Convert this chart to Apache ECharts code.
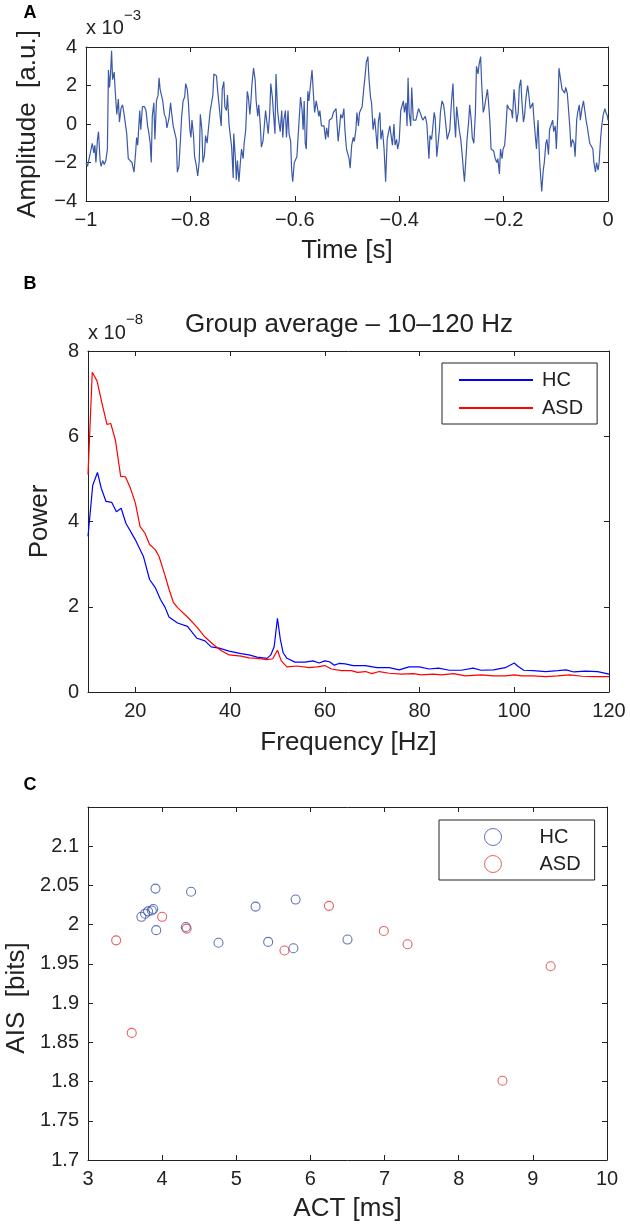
<!DOCTYPE html>
<html>
<head>
<meta charset="utf-8">
<script src="https://cdn.jsdelivr.net/npm/echarts@6.0.0/dist/echarts.min.js"></script>
<style>
  html, body { margin: 0; padding: 0; background: #fff; }
  #chart { width: 630px; height: 1225px; }
</style>
</head>
<body>
<div id="chart"></div>
<script>
// A: sample signal, time in ms, amplitude in units of 1e-3
const timeMs = [
  -1000, -997, -994, -991, -988, -985, -983, -981, -978, -976, -973, -971, -968, -965, -962, -959,
  -957, -955, -953, -951, -949, -946, -944, -941, -938, -936, -933, -930, -927, -924, -922, -919,
  -916, -912, -908, -905, -903, -901, -897, -895, -892, -888, -885, -882, -880, -877, -875, -873,
  -870, -868, -865, -862, -860, -858, -855, -853, -850, -847, -845, -843, -841, -838, -836, -833,
  -830, -827, -825, -822, -819, -817, -814, -811, -809, -806, -804, -801, -799, -797, -794, -792,
  -789, -786, -783, -781, -778, -776, -773, -771, -768, -766, -762, -760, -757, -755, -753, -750,
  -748, -745, -743, -741, -739, -736, -734, -731, -729, -726, -724, -721, -718, -717, -714, -712,
  -710, -707, -704, -702, -699, -697, -694, -691, -689, -686, -684, -682, -679, -676, -674, -671,
  -669, -666, -664, -661, -659, -656, -654, -651, -648, -646, -643, -641, -638, -636, -633, -631,
  -628, -625, -623, -621, -618, -616, -613, -611, -608, -606, -604, -601, -599, -596, -594, -591,
  -589, -586, -584, -582, -580, -578, -575, -573, -570, -567, -564, -562, -559, -557, -554, -552,
  -549, -546, -544, -541, -539, -536, -534, -531, -529, -526, -524, -521,
  -517, -514, -512, -509, -506, -504, -501, -499, -496, -494, -491, -488, -486, -483, -481, -478,
  -476, -473, -471, -468, -465, -463, -460, -458, -455, -453, -450, -447, -445, -442, -440, -437,
  -435, -432, -429, -427, -426, -423, -421, -418, -415, -413, -410, -408, -405, -403, -400, -397,
  -395, -392, -390, -387, -385, -383, -381, -378, -376, -373, -371, -368, -365, -363, -360, -358,
  -355, -353, -350, -347, -345, -343, -341, -338, -336, -333, -331, -328, -326, -323, -321, -318,
  -315, -313, -310, -308, -305, -303, -300, -297, -295, -292, -290, -287, -285, -282, -279, -277,
  -275, -272, -270, -267, -265, -262, -260, -257, -254, -252, -249, -247, -244, -242, -239, -237,
  -234, -231, -229, -226, -224, -221, -219, -216, -213, -211, -208, -206, -203, -201, -198, -196,
  -193, -190, -188, -185, -183, -180, -178, -175, -172, -170, -167, -165, -162, -160, -157, -154,
  -152, -149, -147, -144, -142, -139, -137, -134, -131, -129, -127, -124, -122, -119, -117, -114,
  -112, -109, -106, -104, -101, -99, -96, -94, -91, -88, -86, -83, -81, -78, -76, -73,
  -71, -68, -65, -63, -60, -58, -55, -53, -50, -47, -45, -42, -40, -37, -35, -32,
  -29, -27, -24, -22, -19, -17, -14, -12, -9, -6, -4, -1, 0
];
const amplitude = [
  -2.0, -2.2, -1.8, -1.9, -1.0, -1.5, -1.1, -2.0, -0.8, -0.4, -1.9, -2.2, -1.9, -2.1, -1.9, -1.3,
  2.8, 1.9, 2.6, 3.8, 2.3, 2.7, 1.7, 0.5, 1.3, 0.1, 0.8, 1.0, 0.5, -0.1, -0.5, -1.8,
  -1.9, -2.0, -2.5, -1.5, -0.7, -1.1, 0.7, -0.3, 0.9, 0.9, 0.7, -0.1, -0.4, -1.0, -2.0, 0.4,
  1.1, -0.8, 1.2, 1.5, 2.4, 1.8, 1.8, 1.2, 0.5, 0.3, -0.2, -0.3, 0.3, 1.1, 0.6, -0.1,
  0.0, -0.8, -2.5, -2.2, -0.8, 0.3, 1.2, 1.4, 2.1, 1.8, 1.2, -0.3, -0.7, 0.2, -0.6, -1.7,
  -2.1, -2.7, -1.9, 0.5, -0.3, -2.0, -1.6, -0.6, -1.0, -0.4, 0.7, 1.0, 1.5, 2.6, 2.7, 2.5,
  1.8, 1.8, 0.4, -0.1, 1.8, 2.2, 0.9, 0.7, 1.5, 0.0, -0.5, -1.2, -2.8, -0.5, -1.7, -2.9,
  -1.9, -3.0, -1.9, -1.3, -1.8, -1.0, -0.3, 1.7, 1.4, 0.5, 1.2, 2.1, 2.9, 2.3, 1.2, 0.4,
  1.0, -0.1, -1.2, -0.9, -0.3, 0.7, 0.6, -0.5, 0.6, 2.1, 1.4, 0.6, -0.5, 2.6, 0.7, 0.2,
  -0.4, 0.7, -0.7, 0.2, 0.7, -0.7, 0.7, -0.5, -0.9, -2.4, -3.0, -2.0, -2.0, -1.7, -0.8, -0.7,
  1.4, 0.7, -0.3, 1.2, -1.0, -1.3, 1.7, 1.2, 2.0, 2.8, 1.4, 0.6, 1.2, 0.9, 0.4, 0.7,
  -0.1, 0.0, -0.1, -0.8, -0.2, -0.7, 0.2, 0.3, 0.3, 0.6, 0.7, 0.8,
  -0.9, -0.1, 0.5, 0.3, 0.8, -0.3, -1.3, -1.5, -1.8, -2.3, -1.1, -0.7, -0.9, -0.3, 0.6, -0.1,
  0.6, 0.6, 0.9, 1.8, 2.6, 3.2, 3.5, 2.4, 1.4, 1.1, -0.3, 0.3, -0.3, -1.3, 0.1, 0.6,
  -0.8, -0.3, -1.3, -2.4, -3.0, -0.8, -0.7, -0.1, 0.0, -1.1, 0.0, -1.1, -0.8, -1.3, -0.9, 0.7,
  0.6, 1.2, 0.6, 1.1, -0.1, 2.4, 0.6, -0.1, 1.9, 0.2, 0.3, 0.2, 0.3, 0.8, 0.6, 0.6,
  0.2, 0.3, 0.4, 0.0, -0.9, -1.8, -0.6, -0.8, -0.3, 0.6, 0.3, -1.7, -1.6, -0.3, 0.6, 1.2,
  1.0, 0.6, 0.5, -0.8, -0.5, -0.3, 1.1, 2.1, 0.6, -0.7, 0.9, 0.2, -0.3, -0.8, -1.7, -2.4,
  -3.0, -1.7, -0.8, 0.1, 1.0, 0.2, -0.7, -1.0, 0.6, 3.0, 2.6, 3.1, 3.5, 2.1, 0.6, 0.8,
  0.7, 1.8, 1.2, 0.0, -1.3, -1.3, -1.4, -1.8, -2.0, -1.8, -2.6, -1.3, -1.8, -1.3, -1.1, -0.4,
  1.0, 0.8, 0.9, 0.7, 0.3, 1.8, 1.8, 0.1, 0.6, 1.9, 2.3, 1.2, 0.1, 0.4, 1.4, 2.0,
  1.6, 0.8, 0.7, 1.1, 0.3, -0.7, -1.3, 0.2, -1.9, -2.7, -3.5, -2.4, -2.0, -1.0, -0.8, -1.6,
  -0.3, -0.2, 0.2, -0.4, -0.1, -1.3, 0.6, 2.9, 2.8, 1.8, 1.7, 1.6, 1.9, 1.6, 0.9, -0.2,
  -1.2, -0.8, -1.0, -1.7, 0.2, 0.6, 1.0, 0.2, 0.8, 1.2, 1.2, 0.2, -0.1, -0.1, -1.0, -1.1,
  -1.3, -2.0, -2.5, -2.0, -2.4, -2.0, -0.7, -0.1, 0.5, 0.8, 0.6, 0.4, 0.2
];

// B: group average power spectra, power in units of 1e-8
const hcFreq = [
  10, 11, 12, 12.8, 13.8, 15, 16, 17, 18, 20, 21.7, 23, 24.2, 25.3, 26.3, 27.1, 28.9, 31, 33, 34.7,
  36, 37.7, 39.8, 42.3, 44, 45.7, 47.8, 48.6, 49.3, 50, 50.6, 51.2, 52, 53.7, 55.8, 57.5, 58.8, 60, 61, 62,
  63, 64.3, 66, 68.6, 71, 73.6, 75.7, 77.8, 80, 82, 84, 86.3, 88.8, 91.3, 93, 95.6, 98.1, 100, 100.7, 102,
  104, 106.6, 109.2, 110.9, 112.6, 115, 117.6, 120
];
const hcPower = [
  3.65, 4.85, 5.15, 4.78, 4.47, 4.45, 4.23, 4.31, 3.96, 3.57, 3.18, 2.64, 2.45, 2.17, 1.98, 1.76, 1.62, 1.54, 1.26, 1.20,
  1.06, 1.03, 0.96, 0.90, 0.87, 0.82, 0.79, 0.87, 1.06, 1.73, 1.24, 0.92, 0.79, 0.70, 0.70, 0.73, 0.68, 0.73, 0.71, 0.63,
  0.67, 0.66, 0.62, 0.62, 0.57, 0.57, 0.52, 0.59, 0.59, 0.54, 0.56, 0.51, 0.51, 0.56, 0.51, 0.52, 0.57, 0.68, 0.61, 0.51,
  0.50, 0.48, 0.50, 0.52, 0.47, 0.49, 0.48, 0.42
];
const asdFreq = [
  10, 10.9, 11.9, 12.9, 14, 14.8, 15.8, 16.9, 17.9, 18.9, 20, 21, 22, 23, 24.2, 25, 26.3, 27.1, 28, 28.9,
  31, 33, 34.7, 36.4, 38, 39.8, 42.3, 44, 45.7, 47.8, 49, 50, 50.8, 52, 54.1, 56.7, 58.4, 60, 61.4, 63.5,
  65.6, 66.9, 68.6, 69.9, 71.5, 73.6, 76.2, 78.7, 80.4, 82.9, 84.6, 87.2, 89.7, 93, 95.6, 98.1, 100, 101.6, 104, 106.6,
  109.2, 111.7, 114.3, 116.8, 120
];
const asdPower = [
  5.1, 7.5, 7.3, 6.8, 6.28, 6.3, 5.9, 5.06, 5.05, 4.8, 4.43, 3.88, 3.73, 3.46, 3.34, 3.18, 2.72, 2.41, 2.11, 1.98,
  1.76, 1.52, 1.29, 1.12, 0.98, 0.87, 0.84, 0.80, 0.79, 0.76, 0.78, 0.98, 0.73, 0.59, 0.61, 0.57, 0.59, 0.62, 0.54, 0.50,
  0.50, 0.46, 0.48, 0.43, 0.48, 0.44, 0.42, 0.43, 0.40, 0.42, 0.40, 0.43, 0.38, 0.40, 0.38, 0.38, 0.40, 0.38, 0.38, 0.36,
  0.38, 0.40, 0.37, 0.36, 0.36
];
const freqTicks = [20, 40, 60, 80, 100, 120];

// C: ACT [ms] vs AIS [bits] per subject
const hcACT = [3.91, 4.39, 3.72, 3.77, 3.81, 3.86, 3.88, 3.92, 4.32, 4.76, 5.26, 5.43, 5.80, 5.77, 6.50];
const hcAIS = [2.046, 2.042, 2.010, 2.014, 2.017, 2.018, 2.020, 1.993, 1.997, 1.977, 2.023, 1.978, 2.032, 1.970, 1.981];
const asdACT = [3.38, 3.59, 4.00, 4.33, 5.65, 6.25, 6.99, 7.31, 9.24, 8.59];
const asdAIS = [1.980, 1.862, 2.010, 1.995, 1.967, 2.024, 1.992, 1.975, 1.947, 1.801];

const FONT = '"Liberation Sans", Arial, Helvetica, sans-serif';
const INK = '#222';
const SIG_BLUE = '#3b59a8';
const DOT_BLUE = '#3a52a6';
const DOT_RED = '#e23a3a';

const minus = v => String(v).replace('-', '\u2212');

function makeAxis(gridIndex, position, range, withLabels) {
  const ax = {
    type: 'value', gridIndex: gridIndex, position: position,
    min: range.min, max: range.max,
    axisLine: { show: true, onZero: false, lineStyle: { color: INK, width: 1 } },
    axisTick: { show: true, inside: true, length: 5, lineStyle: { color: INK, width: 1 } },
    splitLine: { show: false },
    axisLabel: {
      show: withLabels, fontFamily: FONT, fontSize: 20, color: INK, margin: 9,
      formatter: minus
    }
  };
  if (range.interval) ax.interval = range.interval;
  if (range.ticks) {
    ax.axisTick.customValues = range.ticks;
    ax.axisLabel.customValues = range.ticks;
  }
  return ax;
}

function named(ax, name, gap) {
  ax.name = name;
  ax.nameLocation = 'middle';
  ax.nameGap = gap;
  ax.nameTextStyle = { fontFamily: FONT, fontSize: 26, color: INK };
  return ax;
}

const rangeTime = { min: -1, max: 0, interval: 0.2 };
const rangeAmp = { min: -4, max: 4, interval: 2 };
const rangeFreq = { min: 10, max: 120, ticks: freqTicks };
const rangePow = { min: 0, max: 8, interval: 2 };
const rangeACT = { min: 3, max: 10, interval: 1 };
const rangeAIS = { min: 1.7, max: 2.15, interval: 0.05 };

// the AIS label sits a little below the axis middle, so it is drawn as a graphic
const aisLeft = makeAxis(2, 'left', rangeAIS, true);
aisLeft.axisLabel.showMaxLabel = false;

const chart = echarts.init(document.getElementById('chart'), null, { renderer: 'canvas' });

const option = {
  animation: false,
  backgroundColor: '#fff',
  grid: [
    { left: 86, top: 47, width: 522, height: 154, outerBoundsMode: 'none' },
    { left: 88, top: 351, width: 521, height: 341, outerBoundsMode: 'none' },
    { left: 88, top: 807, width: 519, height: 353, outerBoundsMode: 'none' }
  ],
  xAxis: [
    named(makeAxis(0, 'bottom', rangeTime, true), 'Time [s]', 37),
    makeAxis(0, 'top', rangeTime, false),
    named(makeAxis(1, 'bottom', rangeFreq, true), 'Frequency [Hz]', 38),
    makeAxis(1, 'top', rangeFreq, false),
    named(makeAxis(2, 'bottom', rangeACT, true), 'ACT [ms]', 36),
    makeAxis(2, 'top', rangeACT, false)
  ],
  yAxis: [
    named(makeAxis(0, 'left', rangeAmp, true), 'Amplitude  [a.u.]', 45),
    makeAxis(0, 'right', rangeAmp, false),
    named(makeAxis(1, 'left', rangePow, true), 'Power', 35),
    makeAxis(1, 'right', rangePow, false),
    aisLeft,
    makeAxis(2, 'right', rangeAIS, false)
  ],
  legend: [
    {
      data: ['HC', 'ASD'],
      orient: 'vertical', left: 442, top: 363,
      itemWidth: 74, itemHeight: 14, itemGap: 8,
      padding: [7, 14, 6, 16],
      borderColor: INK, borderWidth: 1, backgroundColor: '#fff',
      selectedMode: false,
      itemStyle: { color: 'transparent', borderColor: 'transparent', borderWidth: 0, opacity: 0 },
      textStyle: { fontFamily: FONT, fontSize: 20, color: INK, lineHeight: 20, padding: [0, 0, 0, 4] }
    },
    {
      data: [
        { name: 'HC (C)', icon: 'circle', itemStyle: { color: 'transparent', borderColor: DOT_BLUE, borderWidth: 1 } },
        { name: 'ASD (C)', icon: 'circle', itemStyle: { color: 'transparent', borderColor: DOT_RED, borderWidth: 1 } }
      ],
      orient: 'vertical', left: 439, top: 820,
      itemWidth: 17, itemHeight: 17, itemGap: 7,
      padding: [7, 14, 6, 45],
      borderColor: INK, borderWidth: 1, backgroundColor: '#fff',
      selectedMode: false,
      formatter: name => name.replace(' (C)', ''),
      textStyle: { fontFamily: FONT, fontSize: 20, color: INK, lineHeight: 20, padding: [0, 0, 0, 33] }
    }
  ],
  graphic: [
    { type: 'text', x: 30, y: 13, style: { text: 'A', fontFamily: FONT, fontSize: 18, fontWeight: 'bold', fill: '#000', align: 'center', verticalAlign: 'middle' } },
    { type: 'text', x: 30, y: 284, style: { text: 'B', fontFamily: FONT, fontSize: 18, fontWeight: 'bold', fill: '#000', align: 'center', verticalAlign: 'middle' } },
    { type: 'text', x: 30, y: 785, style: { text: 'C', fontFamily: FONT, fontSize: 18, fontWeight: 'bold', fill: '#000', align: 'center', verticalAlign: 'middle' } },
    { type: 'text', x: 86, y: 28, style: { text: 'x 10', fontFamily: FONT, fontSize: 20, fill: INK, verticalAlign: 'middle' } },
    { type: 'text', x: 124, y: 16, style: { text: '\u22123', fontFamily: FONT, fontSize: 15, fill: INK, verticalAlign: 'middle' } },
    { type: 'text', x: 88, y: 333, style: { text: 'x 10', fontFamily: FONT, fontSize: 20, fill: INK, verticalAlign: 'middle' } },
    { type: 'text', x: 126, y: 320, style: { text: '\u22128', fontFamily: FONT, fontSize: 15, fill: INK, verticalAlign: 'middle' } },
    { type: 'text', x: 349, y: 325, style: { text: 'Group average \u2013 10\u2013120 Hz', fontFamily: FONT, fontSize: 26, fill: INK, align: 'center', verticalAlign: 'middle' } },
    { type: 'text', x: 17, y: 998, rotation: Math.PI / 2, style: { text: 'AIS  [bits]', fontFamily: FONT, fontSize: 26, fill: INK, align: 'center', verticalAlign: 'middle' } }
  ],
  series: [
    {
      type: 'line', xAxisIndex: 0, yAxisIndex: 0, symbol: 'none', silent: true,
      lineStyle: { color: SIG_BLUE, width: 1.2 },
      data: timeMs.map((t, i) => [t / 1000, amplitude[i]])
    },
    {
      name: 'HC', type: 'line', xAxisIndex: 2, yAxisIndex: 2, symbol: 'none', silent: true,
      color: '#0000ff', lineStyle: { color: '#0000ff', width: 1.2 },
      data: hcFreq.map((f, i) => [f, hcPower[i]])
    },
    {
      name: 'ASD', type: 'line', xAxisIndex: 2, yAxisIndex: 2, symbol: 'none', silent: true,
      color: '#ff0000', lineStyle: { color: '#ff0000', width: 1.2 },
      data: asdFreq.map((f, i) => [f, asdPower[i]])
    },
    {
      name: 'HC (C)', type: 'scatter', xAxisIndex: 4, yAxisIndex: 4, symbol: 'circle', symbolSize: 9, silent: true,
      itemStyle: { color: 'transparent', borderColor: DOT_BLUE, borderWidth: 1.1 },
      data: hcACT.map((a, i) => [a, hcAIS[i]])
    },
    {
      name: 'ASD (C)', type: 'scatter', xAxisIndex: 4, yAxisIndex: 4, symbol: 'circle', symbolSize: 9, silent: true,
      itemStyle: { color: 'transparent', borderColor: DOT_RED, borderWidth: 1.1 },
      data: asdACT.map((a, i) => [a, asdAIS[i]])
    }
  ]
};

chart.setOption(option);
</script>
</body>
</html>
